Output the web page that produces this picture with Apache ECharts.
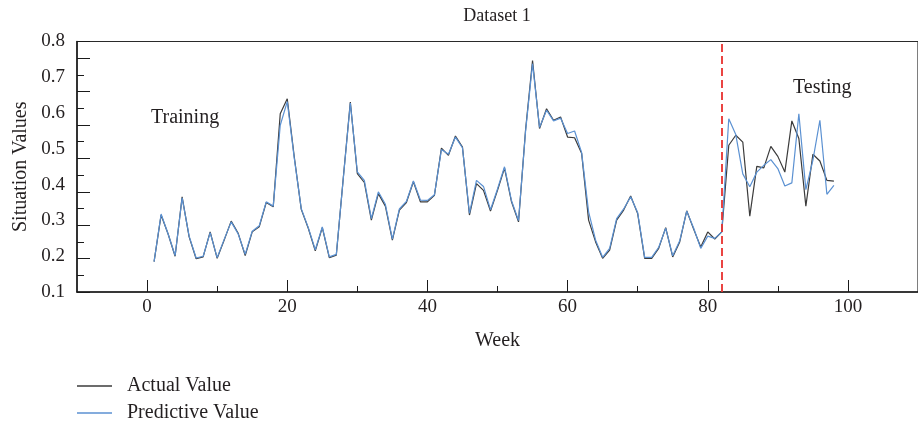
<!DOCTYPE html>
<html>
<head>
<meta charset="utf-8">
<script src="https://cdn.jsdelivr.net/npm/echarts@6/dist/echarts.min.js"></script>
<style>
  html, body { margin: 0; padding: 0; background: #ffffff; }
  #chart { width: 918px; height: 426px; }
</style>
</head>
<body>
<div id="chart"></div>
<script>
// Weekly situation values, week 1 .. 98
const firstWeek = 1;

const actualValues = [
  0.185, 0.315, 0.262, 0.200, 0.366, 0.254, 0.193, 0.198, 0.268, 0.194,
  0.245, 0.298, 0.264, 0.202, 0.268, 0.282, 0.350, 0.338, 0.598, 0.640,
  0.478, 0.331, 0.278, 0.215, 0.280, 0.196, 0.203, 0.420, 0.631, 0.431,
  0.406, 0.301, 0.375, 0.340, 0.245, 0.329, 0.350, 0.408, 0.352, 0.352,
  0.370, 0.502, 0.482, 0.536, 0.505, 0.315, 0.403, 0.384, 0.326, 0.384,
  0.446, 0.352, 0.296, 0.552, 0.747, 0.557, 0.612, 0.580, 0.589, 0.533,
  0.531, 0.488, 0.301, 0.240, 0.194, 0.217, 0.301, 0.329, 0.368, 0.319,
  0.194, 0.194, 0.222, 0.280, 0.198, 0.240, 0.327, 0.275, 0.226, 0.268,
  0.248, 0.268, 0.510, 0.538, 0.519, 0.312, 0.451, 0.447, 0.507, 0.479,
  0.435, 0.578, 0.529, 0.340, 0.485, 0.466, 0.412, 0.410
];

const predictedValues = [
  0.185, 0.318, 0.262, 0.202, 0.363, 0.256, 0.195, 0.200, 0.266, 0.196,
  0.247, 0.296, 0.262, 0.205, 0.270, 0.285, 0.352, 0.340, 0.566, 0.632,
  0.474, 0.333, 0.280, 0.218, 0.282, 0.198, 0.205, 0.418, 0.628, 0.436,
  0.412, 0.305, 0.380, 0.345, 0.248, 0.332, 0.353, 0.410, 0.357, 0.356,
  0.372, 0.498, 0.485, 0.533, 0.503, 0.320, 0.412, 0.395, 0.330, 0.388,
  0.450, 0.355, 0.300, 0.548, 0.738, 0.560, 0.608, 0.578, 0.586, 0.543,
  0.550, 0.490, 0.324, 0.245, 0.197, 0.222, 0.305, 0.332, 0.366, 0.322,
  0.197, 0.197, 0.225, 0.278, 0.201, 0.243, 0.326, 0.278, 0.222, 0.256,
  0.250, 0.268, 0.584, 0.540, 0.430, 0.394, 0.435, 0.454, 0.470, 0.445,
  0.396, 0.405, 0.598, 0.386, 0.468, 0.580, 0.373, 0.398
];

// Week where the test period begins
const splitWeek = 82;

// Axis ticks and labels
const weekLabelValues = [0, 20, 40, 60, 80, 100];
const weekMinorTicks = [10, 30, 50, 70, 90];
const valueLabelStep = 0.1;

const serif = "'Liberation Serif', 'Times New Roman', serif";
const ink = '#231f20';
const actualColor = '#3b3b3b';
const predictedColor = '#5b91d2';

const toPoints = arr => arr.map((v, i) => [firstWeek + i, v]);

const chart = echarts.init(document.getElementById('chart'), null, { renderer: 'canvas' });

chart.setOption({
  animation: false,
  backgroundColor: '#ffffff',
  textStyle: { fontFamily: serif, color: ink },
  grid: {
    left: 77, top: 41.5, right: -9, bottom: 134,
    show: true, borderColor: '#2a2a2a', borderWidth: 1.2,
    containLabel: false
  },
  legend: {
    orient: 'vertical',
    left: 77, top: 376,
    padding: 0,
    itemWidth: 35, itemHeight: 1.5, itemGap: 7,
    icon: 'rect',
    textStyle: { fontFamily: serif, fontSize: 20, color: ink, padding: [0, 0, 0, 10] },
    data: ['Actual Value', 'Predictive Value']
  },
  xAxis: [
    {
      type: 'value', min: -10, max: 110, interval: 10, position: 'bottom',
      name: 'Week', nameLocation: 'middle', nameGap: 39,
      nameTextStyle: { fontFamily: serif, fontSize: 20, color: ink },
      axisLine: { show: true, onZero: false, lineStyle: { color: '#1a1a1a', width: 1.5 } },
      axisTick: { show: true, inside: true, length: 6, customValues: weekMinorTicks,
                  lineStyle: { color: '#1a1a1a', width: 1 } },
      axisLabel: { customValues: weekLabelValues, fontFamily: serif, fontSize: 19, color: ink, margin: 6 },
      splitLine: { show: false }
    },
    {
      type: 'value', min: -10, max: 110, interval: 10, position: 'bottom',
      axisLine: { show: false, onZero: false },
      axisTick: { show: true, inside: true, length: 12, customValues: weekLabelValues,
                  lineStyle: { color: '#1a1a1a', width: 1 } },
      axisLabel: { show: false },
      splitLine: { show: false }
    }
  ],
  yAxis: [
    {
      type: 'value', min: 0.1, max: 0.8, interval: valueLabelStep, position: 'left',
      name: 'Situation Values', nameLocation: 'middle', nameGap: 46,
      nameTextStyle: { fontFamily: serif, fontSize: 20, color: ink },
      axisLine: { show: true, onZero: false, lineStyle: { color: '#1a1a1a', width: 1.5 } },
      axisTick: { show: false },
      axisLabel: { fontFamily: serif, fontSize: 19, color: ink, margin: 12,
                   formatter: v => v.toFixed(1) },
      splitLine: { show: false }
    },
    {
      type: 'value', min: 0, max: 7.5, interval: 1, position: 'left',
      axisLine: { show: false, onZero: false },
      axisTick: { show: true, inside: true, length: 13, lineStyle: { color: '#1a1a1a', width: 1 } },
      minorTick: { show: true, splitNumber: 2, length: 7, lineStyle: { color: '#1a1a1a', width: 1 } },
      axisLabel: { show: false },
      splitLine: { show: false },
      minorSplitLine: { show: false }
    }
  ],
  series: [
    {
      name: 'Actual Value', type: 'line', xAxisIndex: 0, yAxisIndex: 0,
      data: toPoints(actualValues),
      showSymbol: false, symbol: 'none', color: actualColor,
      lineStyle: { color: actualColor, width: 1.2 },
      z: 2,
      markLine: {
        silent: true, symbol: ['none', 'none'],
        label: { show: false },
        lineStyle: { color: '#e8312f', type: [8, 4], width: 1.8 },
        data: [{ xAxis: splitWeek }]
      }
    },
    {
      name: 'Predictive Value', type: 'line', xAxisIndex: 0, yAxisIndex: 0,
      data: toPoints(predictedValues),
      showSymbol: false, symbol: 'none', color: predictedColor,
      lineStyle: { color: predictedColor, width: 1.2 },
      z: 3
    }
  ],
  graphic: [
    { type: 'text', x: 497, y: 16,
      style: { text: 'Dataset 1', fill: ink, font: "18px " + serif, textAlign: 'center', textVerticalAlign: 'middle' } },
    { type: 'text', x: 151, y: 118,
      style: { text: 'Training', fill: ink, font: "20px " + serif, textAlign: 'left', textVerticalAlign: 'middle' } },
    { type: 'text', x: 793, y: 88,
      style: { text: 'Testing', fill: ink, font: "20px " + serif, textAlign: 'left', textVerticalAlign: 'middle' } }
  ]
});
</script>
</body>
</html>
